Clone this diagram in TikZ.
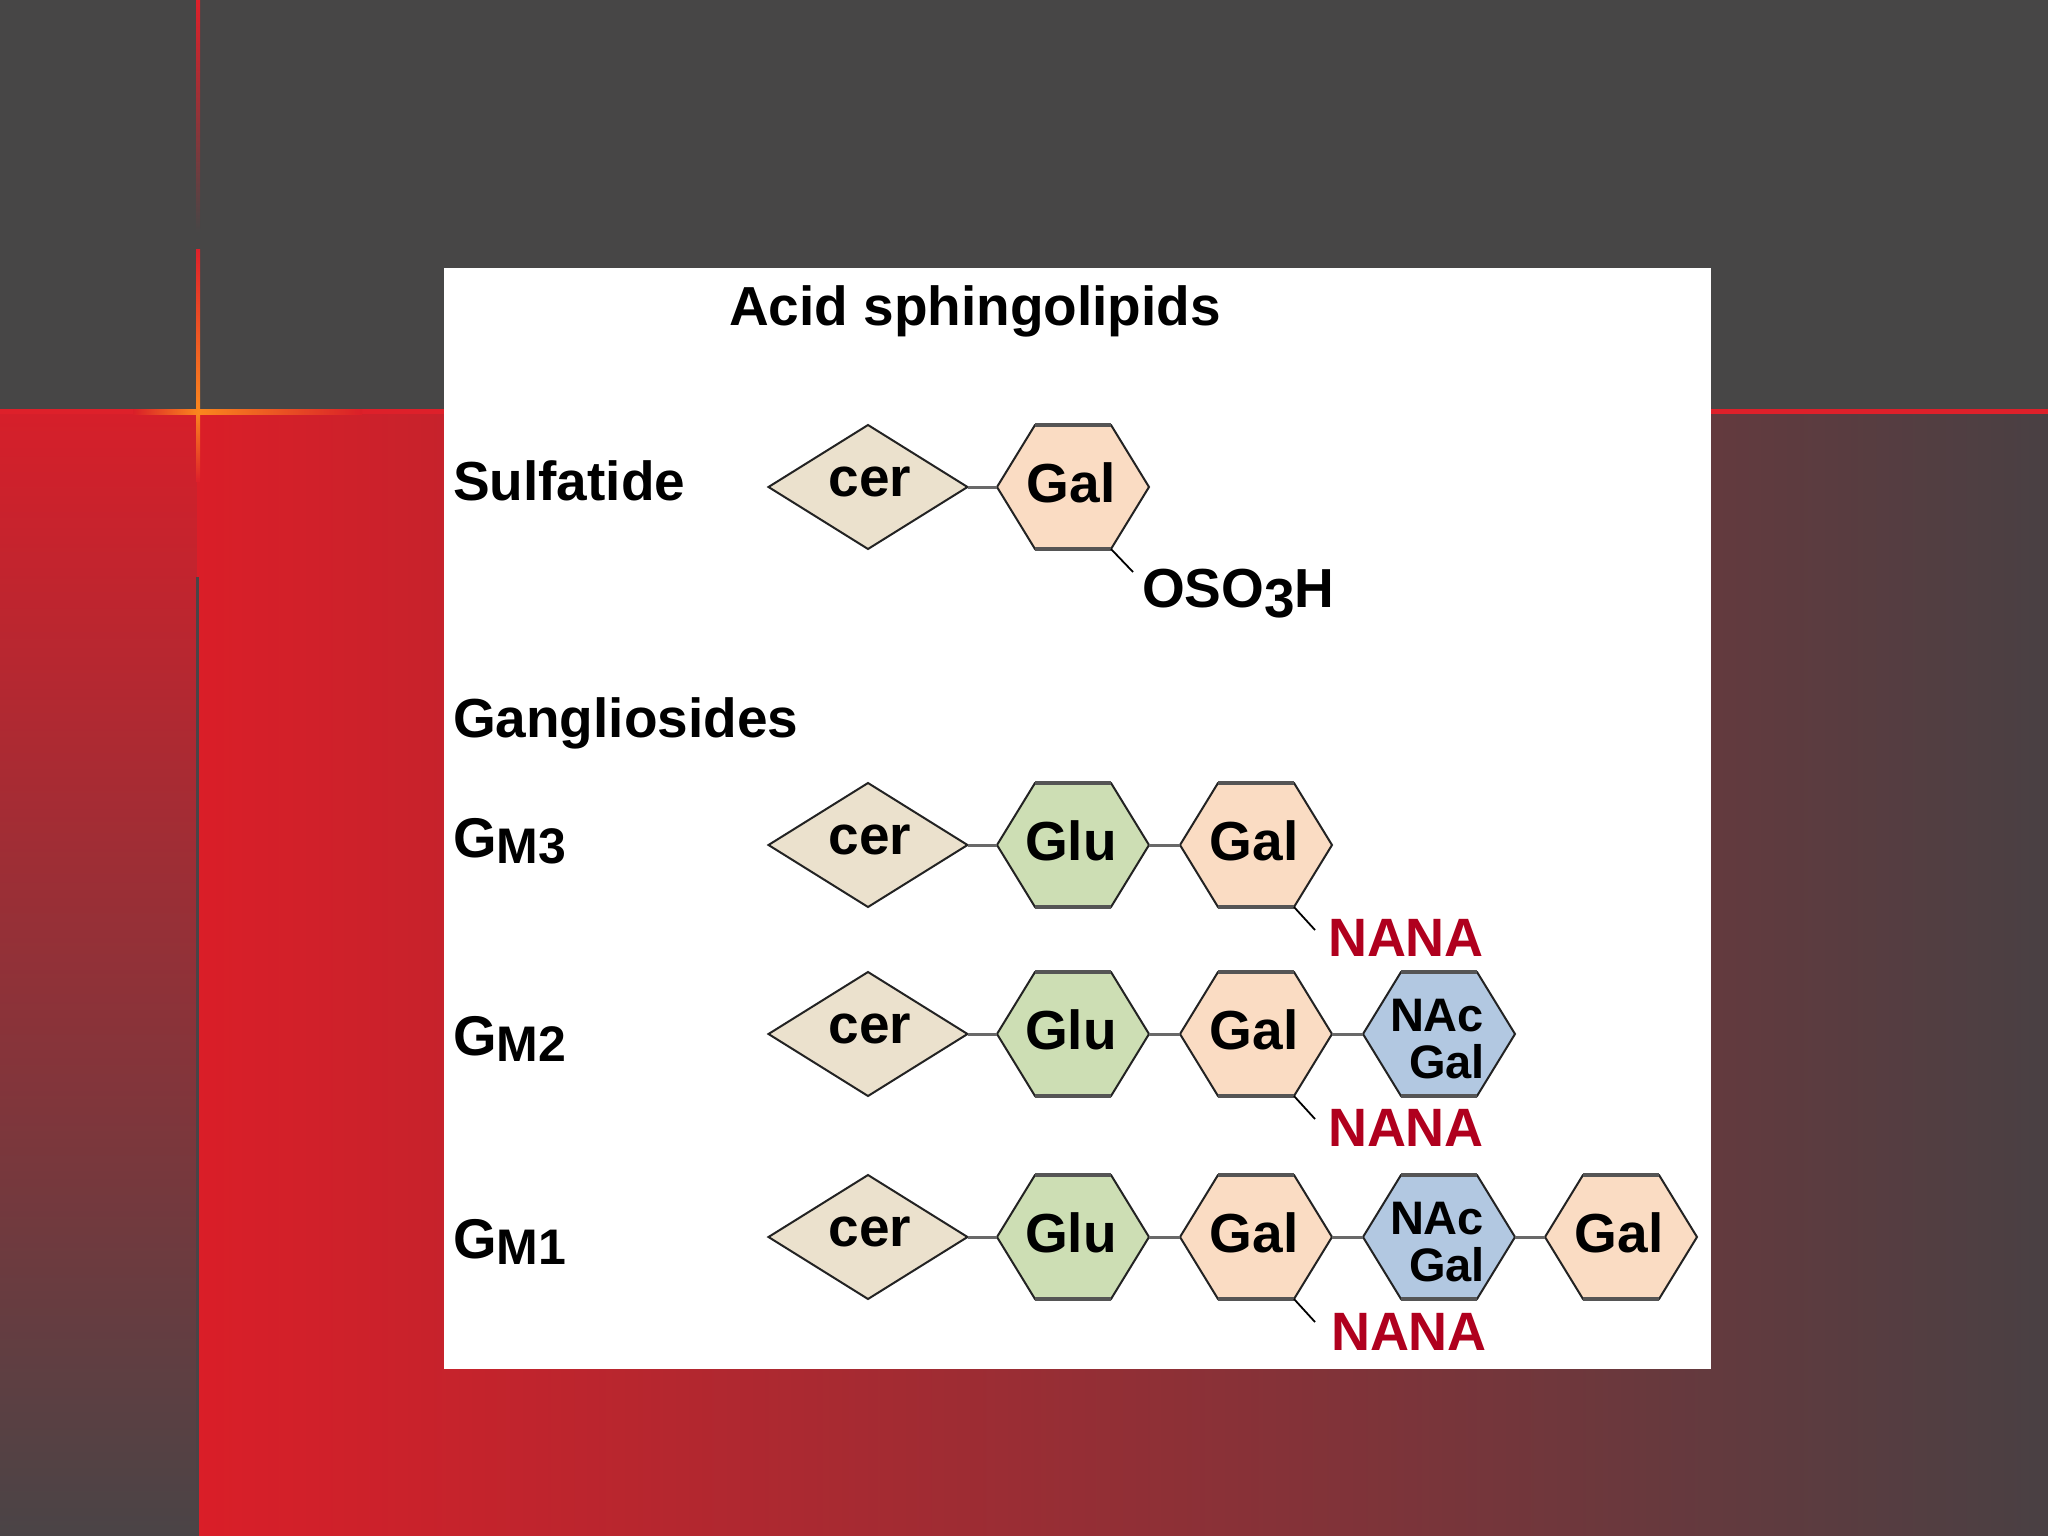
\documentclass[tikz,border=0pt]{standalone}
\usepackage{fontspec}
\setmainfont{Liberation Sans}
\usetikzlibrary{shapes.geometric,calc}
\definecolor{bgdark}{RGB}{71,70,70}
\definecolor{bgred}{RGB}{218,30,40}
\definecolor{bggray}{RGB}{73,64,67}
\definecolor{stripred}{RGB}{214,31,42}
\definecolor{stripgray}{RGB}{74,68,70}
\definecolor{linered}{RGB}{222,32,42}
\definecolor{glow}{RGB}{250,135,30}
\definecolor{edgecol}{RGB}{35,35,35}
\definecolor{flatcol}{RGB}{85,85,85}
\definecolor{bondgray}{RGB}{105,105,105}
\definecolor{cerfill}{RGB}{235,225,205}
\definecolor{galfill}{RGB}{250,220,195}
\definecolor{glufill}{RGB}{205,222,180}
\definecolor{nacfill}{RGB}{178,200,225}
\definecolor{nanared}{RGB}{176,0,30}
\newcommand{\sugar}[5]{%
  \node[hexbox] (#1) at (#2,#3) {};
  \path[hexfill, fill=#4] (#1.west) -- ($(#1.north)+(-38,0)$) -- ($(#1.north)+(38,0)$) -- (#1.east) -- ($(#1.south)+(38,0)$) -- ($(#1.south)+(-38,0)$) -- cycle;
  \draw[flatedge] ($(#1.north)+(-38,0)$) -- ($(#1.north)+(38,0)$);
  \draw[flatedge] ($(#1.south)+(-38,0)$) -- ($(#1.south)+(38,0)$);
  \node[txt] (#1-t) at ($(#1.center)+(-2,15)$) {#5};
}
\newcommand{\nacsugar}[3]{%
  \node[hexbox] (#1) at (#2,#3) {};
  \path[hexfill, fill=nacfill] (#1.west) -- ($(#1.north)+(-38,0)$) -- ($(#1.north)+(38,0)$) -- (#1.east) -- ($(#1.south)+(38,0)$) -- ($(#1.south)+(-38,0)$) -- cycle;
  \draw[flatedge] ($(#1.north)+(-38,0)$) -- ($(#1.north)+(38,0)$);
  \draw[flatedge] ($(#1.south)+(-38,0)$) -- ($(#1.south)+(38,0)$);
  \node[subtxt] (#1-t1) at ($(#1.center)+(-2,-3)$) {NAc};
  \node[subtxt] (#1-t2) at ($(#1.center)+(8,44)$) {Gal};
}
\newcommand{\cersugar}[3]{%
  \node[cerbox] (#1) at (#2,#3) {};
  \node[txt] (#1-t) at ($(#1.center)+(2,9)$) {cer};
}
\begin{document}
\begin{tikzpicture}[x=1pt,y=-1pt,
  every node/.style={inner sep=0pt,outer sep=0pt},
  hexbox/.style={rectangle, minimum width=152, minimum height=124, draw=none},
  hexfill/.style={draw=edgecol, line width=2, line join=miter},
  flatedge/.style={draw=flatcol, line width=3.2},
  cerbox/.style={diamond, draw=edgecol, line width=2, fill=cerfill, minimum width=199, minimum height=124},
  bond/.style={draw=bondgray, line width=3},
  stem/.style={draw=black, line width=1.8},
  txt/.style={font=\bfseries\fontsize{55}{60}\selectfont, anchor=base, text=black},
  subtxt/.style={font=\bfseries\fontsize{47}{48}\selectfont, anchor=base, text=black},
  lbl/.style={txt, anchor=base west},
  nanatxt/.style={font=\bfseries\fontsize{54}{60}\selectfont, anchor=base west, text=nanared}]
\useasboundingbox (0,0) rectangle (2048,1536);
% background
\fill[bgdark] (0,0) rectangle (2048,412);
\shade[top color=stripred, bottom color=stripgray] (0,411) rectangle (197,1536);
\shade[left color=bgred, right color=bggray] (197,411) rectangle (2048,1536);
\fill[linered] (0,409) rectangle (2048,414);
\fill[stripgray] (196,577) rectangle (199,1536);
\shade[top color=linered, bottom color=bgdark] (196,0) rectangle (200,232);
\shade[top color=linered, middle color=linered, bottom color=glow] (196,249) rectangle (200,411);
\shade[top color=glow, bottom color=linered] (196,411) rectangle (200,481);
\shade[left color=bgred, right color=glow] (133,409) rectangle (198,414);
\shade[left color=glow, right color=bgred] (198,409) rectangle (362,414);
% panel
\fill[white] (444,268) rectangle (1711,1369);
% title and labels
\node[txt] (title) at (975,325) {Acid sphingolipids};
\node[lbl] (lsulf) at (453,500) {Sulfatide};
\node[lbl] (lgang) at (453,737) {Gangliosides};
\node[lbl] (lgm3) at (453,857) {{\fontsize{56}{60}\selectfont G}\raisebox{-6pt}{\fontsize{50}{55}\selectfont M3}};
\node[lbl] (lgm2) at (453,1055) {{\fontsize{56}{60}\selectfont G}\raisebox{-6pt}{\fontsize{50}{55}\selectfont M2}};
\node[lbl] (lgm1) at (453,1258) {{\fontsize{56}{60}\selectfont G}\raisebox{-6pt}{\fontsize{50}{55}\selectfont M1}};
% Sulfatide
\cersugar{scer}{868}{487}
\sugar{sgal}{1073}{487}{galfill}{Gal}
\draw[bond] (scer.east) -- (sgal.west);
\node[lbl] (oso) at (1142,607) {OSO\raisebox{-10pt}{3}H};
\coordinate (osoend) at (1133,572);
\draw[stem] ($(sgal.south)+(38,0)$) -- (osoend);
% GM3
\cersugar{acer}{868}{845}
\sugar{aglu}{1073}{845}{glufill}{Glu}
\sugar{agal}{1256}{845}{galfill}{Gal}
\draw[bond] (acer.east) -- (aglu.west);
\draw[bond] (aglu.east) -- (agal.west);
\node[nanatxt] (anana) at (1328,956) {NANA};
\coordinate (anend) at ($(agal.south)+(59,23)$);
\draw[stem] ($(agal.south)+(38,0)$) -- (anend);
% GM2
\cersugar{bcer}{868}{1034}
\sugar{bglu}{1073}{1034}{glufill}{Glu}
\sugar{bgal}{1256}{1034}{galfill}{Gal}
\nacsugar{bnac}{1439}{1034}
\draw[bond] (bcer.east) -- (bglu.west);
\draw[bond] (bglu.east) -- (bgal.west);
\draw[bond] (bgal.east) -- (bnac.west);
\node[nanatxt] (bnana) at (1328,1146) {NANA};
\coordinate (bnend) at ($(bgal.south)+(59,23)$);
\draw[stem] ($(bgal.south)+(38,0)$) -- (bnend);
% GM1
\cersugar{ccer}{868}{1237}
\sugar{cglu}{1073}{1237}{glufill}{Glu}
\sugar{cgal}{1256}{1237}{galfill}{Gal}
\nacsugar{cnac}{1439}{1237}
\sugar{cgalb}{1621}{1237}{galfill}{Gal}
\draw[bond] (ccer.east) -- (cglu.west);
\draw[bond] (cglu.east) -- (cgal.west);
\draw[bond] (cgal.east) -- (cnac.west);
\draw[bond] (cnac.east) -- (cgalb.west);
\node[nanatxt] (cnana) at (1331,1350) {NANA};
\coordinate (cnend) at ($(cgal.south)+(59,23)$);
\draw[stem] ($(cgal.south)+(38,0)$) -- (cnend);
\end{tikzpicture}
\end{document}
